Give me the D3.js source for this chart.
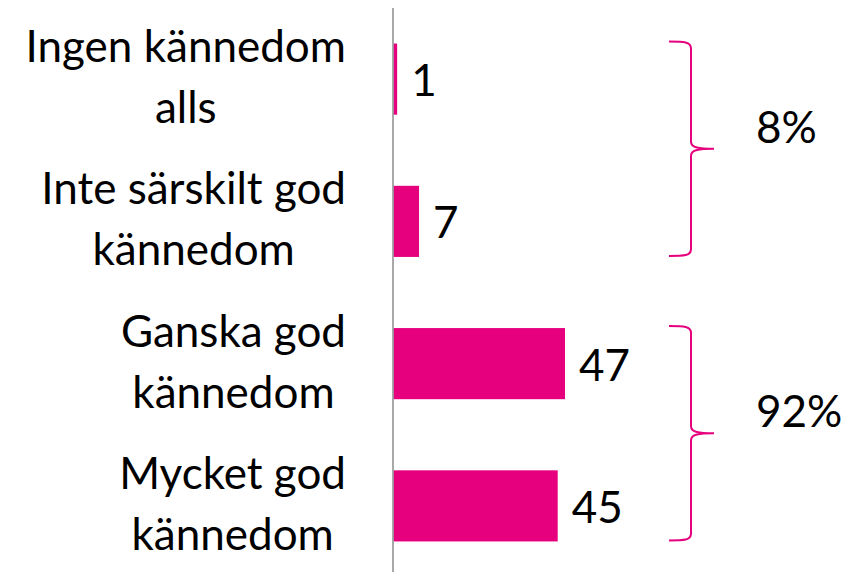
<!DOCTYPE html>
<html>
<head>
<meta charset="utf-8">
<script src="https://cdn.jsdelivr.net/npm/d3@7"></script>
<style>
  html, body { margin: 0; padding: 0; background: #fff; }
  svg { display: block; }
  text { font-family: Lato, "Open Sans", sans-serif; fill: #000; }
</style>
</head>
<body>
<svg id="chart" width="848" height="572"></svg>
<script>
const categories = [
  ["Ingen kännedom", "alls"],
  ["Inte särskilt god", "kännedom"],
  ["Ganska god", "kännedom"],
  ["Mycket god", "kännedom"]
];
const values = [1, 7, 47, 45];
const groupLabels = ["8%", "92%"];
const groupRanges = [[0, 1], [2, 3]];

const pink = "#E6007E";
const svg = d3.select("#chart");
const keys = categories.map(c => c.join(" "));

const y = d3.scaleBand().domain(keys).range([8, 577]).paddingInner(0.5).paddingOuter(0.25);
const x = d3.scaleLinear().domain([0, 47]).range([393.5, 565]);
const fs = 44;

// bars
svg.selectAll("rect.bar").data(values).join("rect")
  .attr("class", "bar")
  .attr("x", x(0))
  .attr("y", (d, i) => y(keys[i]))
  .attr("width", d => x(d) - x(0))
  .attr("height", y.bandwidth())
  .attr("fill", pink);

// axis line
svg.append("line")
  .attr("x1", 393).attr("x2", 393)
  .attr("y1", 8).attr("y2", 572)
  .attr("stroke", "#8c8c8c").attr("stroke-width", 1.5);

// value labels
svg.selectAll("text.val").data(values).join("text")
  .attr("class", "val")
  .attr("x", d => x(d) + 14)
  .attr("y", (d, i) => y(keys[i]) + y.bandwidth() / 2 + 17)
  .attr("font-size", fs)
  .text(d => d);

// category labels
const rightEdge = 346;
categories.forEach((lines, i) => {
  const g = svg.append("g");
  const cy = y(keys[i]) + y.bandwidth() / 2;
  const texts = lines.map((l, j) => g.append("text")
    .attr("font-size", fs)
    .attr("text-anchor", "middle")
    .attr("y", cy + (j === 0 ? -17 : 44))
    .text(l));
  const maxW = d3.max(texts, t => t.node().getComputedTextLength());
  texts.forEach(t => t.attr("x", rightEdge - maxW / 2));
});

// brackets
groupRanges.forEach((r, i) => {
  const top = y(keys[r[0]]) - 2;
  const bottom = y(keys[r[1]]) + y.bandwidth() - 1;
  const mid = (top + bottom) / 2;
  const x0 = 669, xv = 691, xt = 714;
  const p = d3.path();
  p.moveTo(x0, top);
  p.bezierCurveTo(684, top, xv, top, xv, top + 7);
  p.lineTo(xv, mid - 7);
  p.bezierCurveTo(xv, mid - 1, 699, mid, xt, mid);
  p.bezierCurveTo(699, mid, xv, mid + 1, xv, mid + 7);
  p.lineTo(xv, bottom - 7);
  p.bezierCurveTo(xv, bottom, 684, bottom, x0, bottom);
  svg.append("path").attr("d", p.toString())
    .attr("fill", "none").attr("stroke", pink).attr("stroke-width", 2);
  svg.append("text")
    .attr("x", 756)
    .attr("y", mid - 6)
    .attr("font-size", fs)
    .text(groupLabels[i]);
});
</script>
</body>
</html>
